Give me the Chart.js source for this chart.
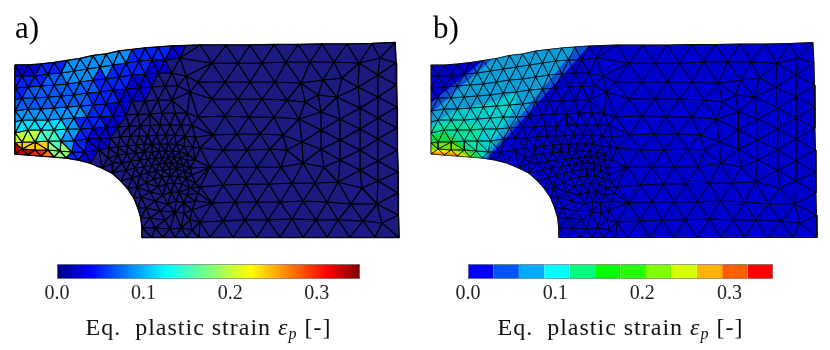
<!DOCTYPE html>
<html>
<head>
<meta charset="utf-8">
<title>Eq. plastic strain</title>
<script src="https://cdn.jsdelivr.net/npm/chart.js@4/dist/chart.umd.min.js"></script>
<style>
  html, body { margin: 0; padding: 0; background: #fff; }
  body { position: relative; width: 830px; height: 350px; overflow: hidden; }
  canvas { position: absolute; display: block; }
</style>
</head>
<body>
<canvas id="meshA" width="416" height="250" style="left:0;top:0"></canvas>
<canvas id="meshB" width="414" height="250" style="left:416px;top:0"></canvas>
<canvas id="barA" width="416" height="100" style="left:0;top:250px"></canvas>
<canvas id="barB" width="414" height="100" style="left:416px;top:250px"></canvas>
<script>
'use strict';
// ============================================================
// DATA (mesh units)
// ============================================================
const topEdge = [[15,65],[28,65],[41,64],[54,62.5],[67,60.5],[80,58.5],[93,55.5],[106,54],[119,51],[132,49.5],[145,48],[158,47],[172,46],[186,45.5],[200,45],[226,45],[250,45],[274,44.5],[298,44.5],[322,44],[347,44],[372,43.5],[395,42.5]];
const rightEdge = [[396,63],[396.5,85],[397,107],[397,128],[397.5,150],[398,172],[398,193],[398.5,215],[399,237.5]];
const bottomEdge = [[375,237.5],[350,237.5],[327,237.5],[303,237.5],[280,237.5],[257,237.5],[233,237.5],[210,237.5],[199,237.5],[187,237.5],[175,237.5],[163,237.5],[152,237.5],[142,237.5]];
const notchArc = [[142,228],[141,218],[138,208],[134,198],[128,189],[121,181],[112,173],[102,168],[90,163],[78,160],[66,158],[54,157],[41,156],[28,155],[15,154]];
const leftEdge = [[15,143],[15,133],[15,122],[15,111],[15,100],[15,88],[15,76]];

// inner nodes, row by row
const innerTop = [
  [22,76],[35,76],[48,74],[61,73],[74,71],[87,69],[100,67],[113,65],[126,63],[139,61],[152,60],[165,60],[180,58],
  [28,87],[41,86],[54,85],[67,84],[80,82],[93,80],[106,79],[119,77],[132,75],[145,74],[158,73],[172,73],[186,76],
  [22,98],[35,98],[48,97],[61,96],[74,95],[87,93],[100,92],[113,90],[126,89],[139,88],[152,87],[165,86],[178,86],[190,92],[198,82],
  [28,109],[41,109],[54,108],[67,107],[80,106],[93,105],[106,104],[119,102],[132,101],[145,101],[158,100],[172,100],[198,117]
];
const innerMid = [
  [22,120],[35,120],[48,120],[61,119],[74,118],[87,117],[100,117],[113,116],[126,115],[138,114],[150,114],[162,113],[175,113],[187,113],
  [28,130],[41,130],[54,130],[67,129],[80,129],[93,128],[106,127],[118,127],[129,126],[140,126],[150,125],[160,125],[170,125],[181,125],[192,125],
  [22,142],[35,142],[48,141],[61,141],[74,141],[87,139],[99,138],[110,138],[120,137],[130,136],[139,136],[148,136],[157,135],[166,135],[175,135],[185,136],[195,137],
  [22,149],[35,150],[48,150],[60,151],[72,152],[85,152],
  [99,150],[109,148],[118,147],[127,146],[136,145],[144,144],[152,144],[160,144],[168,144],[176,144],[184,146],[193,147]
];
const innerFine = [
  [108,158],[118,155],[127,154],[136,153],[144,152],[152,152],[159,151],[166,151],[173,151],[180,152],[188,154],
  [113,163],[122,163],[131,161],[140,160],[148,159],[155,158],[162,158],[168,157],[174,157],[180,158],[187,160],[195,160],
  [126,170],[135,168],[144,167],[152,165],[159,164],[165,163],[171,163],[177,163],[183,165],[190,168],
  [132,178],[140,175],[148,173],[156,171],[163,170],[170,169],[177,169],[184,171],[192,175],
  [137,187],[146,183],[154,179],[162,177],[170,176],[178,176],[186,178],[195,183],
  [141,197],[150,192],[158,187],[166,184],[174,183],[182,184],[190,188],[198,193],
  [146,208],[155,201],[163,195],[171,192],[179,192],[187,195],[195,201],
  [150,218],[160,211],[168,204],[176,201],[184,203],[192,210],
  [155,228],[165,220],[175,212],[184,213],[190,220],[170,229],[181,228],[192,230]
];
const innerRight = [
  [212,63],[238,63],[262,63],[286,62],[310,62],[334,62],[359,63],[380,58],
  [225,82],[250,82],[275,82],[301,83],[323,80],[342,78],[358,87],[378,75],
  [212,99],[238,99],[262,99],[287,100],[305,102],[318,95],[337,97],[360,108],[378,97],
  [225,116],[249,117],[274,117],[299,119],[321,112],[340,119],[378,118],
  [213,135],[237,134],[260,134],[283,135],[302,142],[321,130],[340,140],[360,129],[378,139],
  [200,148],[223,150],[247,150],[270,149],[287,150],[321,149],[340,160],[360,150],[378,161],
  [210,167],[235,167],[257,167],[281,167],[303,163],[324,167],[360,170],[378,181],
  [200,187],[223,185],[246,184],[269,184],[292,183],[315,183],[338,182],[362,188],
  [212,203],[235,202],[257,202],[280,202],[303,201],[327,202],[351,204],[377,204],
  [200,222],[223,221],[245,220],[268,220],[292,219],[316,220],[338,220],[363,221],[382,223]
];

// panel a: strain per element, first zone holding the element wins
const zonesA = [
  [0.33, [[14,147],[30,147],[30,158],[14,158]]],
  [0.30, [[30,148],[42,148],[42,158],[30,158]]],
  [0.27, [[42,148],[52,148],[52,159],[42,159]]],
  [0.18, [[52,147],[67,147],[67,160],[52,160]]],
  [0.24, [[14,140],[52,140],[52,148],[14,148]]],
  [0.20, [[14,132],[40,132],[40,140],[14,140]]],
  [0.15, [[40,132],[60,132],[60,147],[40,140]]],
  [0.115, [[14,121],[66,121],[62,147],[14,132]]],
  [0.09, [[14,109],[82,109],[76,128],[68,150],[14,132]]],
  [0.088, [[70,60],[142,47],[118,66],[88,80],[60,80]]],
  [0.07, [[20,95],[70,60],[100,70],[95,90],[85,115],[14,112]]],
  [0.05, [[14,80],[60,60],[160,45],[172,47],[122,88],[100,124],[74,161],[14,150]]],
  [0.025, [[14,64],[60,60],[60,72],[14,95]]],
  [0.025, [[122,88],[172,47],[186,48],[132,108],[92,164],[74,161],[100,124]]]
];

// panel b: contour bands, lowest first
const bandFillsB = ['#0a50d8','#0a9fd8','#00cfd0','#00e0a0','#10d840','#70e000','#d8e800','#ff9a00','#f02000'];
const band1 = [[15,103],[67,60.5],[80,58.5],[93,55.5],[106,54],[119,51],[132,49.5],[145,48],[158,47],[172,46],[71,159],[66,158],[54,157],[41,156],[28,155],[15,154]];
const band2 = [[15,113],[76,59],[80,58.5],[93,55.5],[106,54],[119,51],[132,49.5],[145,48],[160,47],[69,158.5],[66,158],[54,157],[41,156],[28,155],[15,154]];
const band3 = [[15,125],[40,110],[79,101],[102,92],[96,112],[67,158],[54,157],[41,156],[28,155],[15,154]];
const band4 = [[15,127],[40,121],[62,125],[66,158],[54,157],[41,156],[28,155],[15,154]];
const band5 = [[15,136],[30,132],[54,150],[64,158],[54,157],[41,156],[28,155],[15,154]];
const band6 = [[15,145],[36,141],[60,157.5],[54,157],[41,156],[28,155],[15,154]];
const band7 = [[15,150],[36,149],[54,157],[41,156],[28,155],[15,154]];
const band8 = [[15,152],[40,153],[45,156.5],[41,156],[28,155],[15,154]];
const band9 = [[15,153.2],[24,154.7],[15,154]];
const bandsB = [band1, band2, band3, band4, band5, band6, band7, band8, band9];

const panelLabels = ['a)', 'b)'];
const barTicks = [0, 0.1, 0.2, 0.3];
const barMax = 0.35;
const jetStops = [[0,[0,0,127]],[0.11,[0,0,255]],[0.36,[0,255,255]],[0.5,[127,255,127]],[0.64,[255,255,0]],[0.89,[255,0,0]],[1,[127,0,0]]];
const bandColors = ['#0000ff','#0055ff','#00aaff','#00ffff','#00ff80','#00ff00','#2aff00','#80ff00','#d4ff00','#ffb300','#ff5f00','#ff0000'];
const bandWidths = [0.02917,0.02917,0.02917,0.02917,0.02917,0.02917,0.02917,0.02917,0.02917,0.02917,0.02917,0.02913];
const serif = '"Liberation Serif", serif';

// ============================================================
// MESH
// ============================================================
const outline = [...topEdge, ...rightEdge, ...bottomEdge, ...notchArc, ...leftEdge];
const nodes = [...outline, ...innerTop, ...innerMid, ...innerFine, ...innerRight];

function inPoly(p, poly) {
  let hit = false;
  for (let i = 0, j = poly.length - 1; i < poly.length; j = i++) {
    const a = poly[i], b = poly[j];
    if ((a[1] > p[1]) !== (b[1] > p[1]) && p[0] < (b[0]-a[0])*(p[1]-a[1])/(b[1]-a[1]) + a[0]) hit = !hit;
  }
  return hit;
}

// Bowyer-Watson, only connects the nodes read above
function triangulate(pts) {
  const all = [...pts, [-4000,-4000],[6000,-4000],[400,6000]];
  const n = pts.length;
  let tris = [[n, n+1, n+2]];
  const inCircle = (t, p) => {
    const [a,b,c] = t.map(i => all[i]);
    const ax=a[0]-p[0], ay=a[1]-p[1], bx=b[0]-p[0], by=b[1]-p[1], cx=c[0]-p[0], cy=c[1]-p[1];
    const det = (ax*ax+ay*ay)*(bx*cy-cx*by) - (bx*bx+by*by)*(ax*cy-cx*ay) + (cx*cx+cy*cy)*(ax*by-bx*ay);
    const orient = (b[0]-a[0])*(c[1]-a[1]) - (b[1]-a[1])*(c[0]-a[0]);
    return orient > 0 ? det > 0 : det < 0;
  };
  pts.forEach((p, idx) => {
    const bad = [], keep = [];
    tris.forEach(t => (inCircle(t, p) ? bad : keep).push(t));
    const edges = new Map();
    bad.forEach(t => {
      [[t[0],t[1]],[t[1],t[2]],[t[2],t[0]]].forEach(([u,v]) => {
        const k = Math.min(u,v) + '_' + Math.max(u,v);
        edges.set(k, edges.has(k) ? null : [u,v]);
      });
    });
    edges.forEach(e => { if (e) keep.push([e[0], e[1], idx]); });
    tris = keep;
  });
  return tris.filter(t => t.every(i => i < n));
}

const centroid = t => [(nodes[t[0]][0]+nodes[t[1]][0]+nodes[t[2]][0])/3, (nodes[t[0]][1]+nodes[t[1]][1]+nodes[t[2]][1])/3];
const elements = triangulate(nodes).filter(t => inPoly(centroid(t), outline));

function jetRgb(t) {
  let i = 0;
  while (i < jetStops.length - 2 && t > jetStops[i+1][0]) i++;
  const [t0, c0] = jetStops[i], [t1, c1] = jetStops[i+1];
  const f = (t - t0) / (t1 - t0);
  return `rgb(${c0.map((c,k) => Math.round(c + (c1[k]-c)*f)).join(',')})`;
}

function elementColor(t) {
  const c = centroid(t);
  const zone = zonesA.find(z => inPoly(c, z[1]));
  return zone ? jetRgb(zone[0]/barMax) : '#1a1a80';
}

const toXY = p => ({x: p[0], y: p[1]});
const closed = list => [...list, list[0]].map(toXY);

function shapeSet(list, fillColor, lineColor, lineWidth, order) {
  return {
    data: closed(list), showLine: true, pointRadius: 0, tension: 0, order,
    fill: fillColor ? 'shape' : false,
    backgroundColor: fillColor || 'transparent',
    borderColor: lineColor, borderWidth: lineWidth, borderJoinStyle: 'round'
  };
}

function labelPlugin(text, x) {
  return {
    id: 'panelLabel',
    afterDraw(chart) {
      const c = chart.ctx;
      c.save();
      c.font = `31px ${serif}`;
      c.fillStyle = '#000';
      c.textBaseline = 'alphabetic';
      c.fillText(text, x, 38);
      c.restore();
    }
  };
}

function meshChart(id, datasets, xMax, text, textX) {
  return new Chart(document.getElementById(id), {
    type: 'scatter',
    data: { datasets },
    options: {
      responsive: false, animation: false, events: [],
      layout: { padding: 0 },
      scales: {
        x: { display: false, min: 0, max: xMax },
        y: { display: false, min: 0, max: 250, reverse: true }
      },
      plugins: { legend: { display: false }, tooltip: { enabled: false } }
    },
    plugins: [labelPlugin(text, textX)]
  });
}

// ------ panel a: filled elements with a heavy mesh
const setsA = [shapeSet(outline, '#1a1a80', '#000', 1.6, 3000)];
elements.forEach(t => setsA.push(shapeSet(t.map(i => nodes[i]), elementColor(t), '#000', 1.2, 2000)));
meshChart('meshA', setsA, 416, panelLabels[0], 15);

// ------ panel b: contour bands under a thin mesh
const setsB = [shapeSet(outline, '#0000cd', '#222', 1, 3000)];
bandsB.forEach((b, i) => setsB.push(shapeSet(b, bandFillsB[i], 'transparent', 0, 2000 - i)));
elements.forEach(t => setsB.push(shapeSet(t.map(i => nodes[i]), null, '#000', 0.6, 100)));
meshChart('meshB', setsB, 412, panelLabels[1], 17);

// ============================================================
// COLOUR BARS
// ============================================================
const strainTitle = {
  id: 'strainTitle',
  afterDraw(chart) {
    const c = chart.ctx;
    const parts = [
      ['Eq.  plastic strain ', `24px ${serif}`, 0],
      ['ε', `italic 24px ${serif}`, 0],
      ['p', `italic 16px ${serif}`, 4],
      [' [-]', `24px ${serif}`, 0]
    ];
    c.save();
    c.fillStyle = '#111';
    c.textBaseline = 'alphabetic';
    c.letterSpacing = '1px';
    let w = 0;
    parts.forEach(p => { c.font = p[1]; w += c.measureText(p[0]).width; });
    let x = (chart.chartArea.left + chart.chartArea.right) / 2 - w / 2;
    parts.forEach(p => {
      c.font = p[1];
      c.fillText(p[0], x, 85 + p[2]);
      x += c.measureText(p[0]).width;
    });
    c.restore();
  }
};

function barChart(id, datasets, left, right) {
  return new Chart(document.getElementById(id), {
    type: 'bar',
    data: { labels: ['strain'], datasets },
    options: {
      indexAxis: 'y', responsive: false, animation: false, events: [],
      layout: { padding: { left, right, top: 14, bottom: 0 } },
      scales: {
        y: { display: false, stacked: true },
        x: {
          stacked: true, min: 0, max: barMax,
          afterFit: s => { s.height = 71; },
          afterBuildTicks: s => { s.ticks = barTicks.map(value => ({ value })); },
          grid: { display: false, drawTicks: false },
          border: { display: false },
          ticks: { padding: 3, color: '#222', maxRotation: 0, font: { family: serif, size: 20 }, callback: v => Number(v).toFixed(1) }
        }
      },
      plugins: { legend: { display: false }, tooltip: { enabled: false } }
    },
    plugins: [strainTitle]
  });
}

const smoothFill = ctx => {
  const area = ctx.chart.chartArea;
  if (!area) return '#00f';
  const g = ctx.chart.ctx.createLinearGradient(area.left, 0, area.right, 0);
  jetStops.forEach(s => g.addColorStop(s[0], `rgb(${s[1].join(',')})`));
  return g;
};

barChart('barA', [{
  data: [barMax], backgroundColor: smoothFill, borderColor: '#888', borderWidth: 1,
  borderSkipped: false, barPercentage: 1, categoryPercentage: 1
}], 57, 56);

barChart('barB', bandWidths.map((w, i) => ({
  data: [w], backgroundColor: bandColors[i], borderColor: '#888', borderSkipped: false,
  borderWidth: { top: 1, bottom: 1, left: i === 0 ? 1 : 0, right: i === 11 ? 1 : 0 },
  barPercentage: 1, categoryPercentage: 1
})), 52, 57);
</script>
</body>
</html>
